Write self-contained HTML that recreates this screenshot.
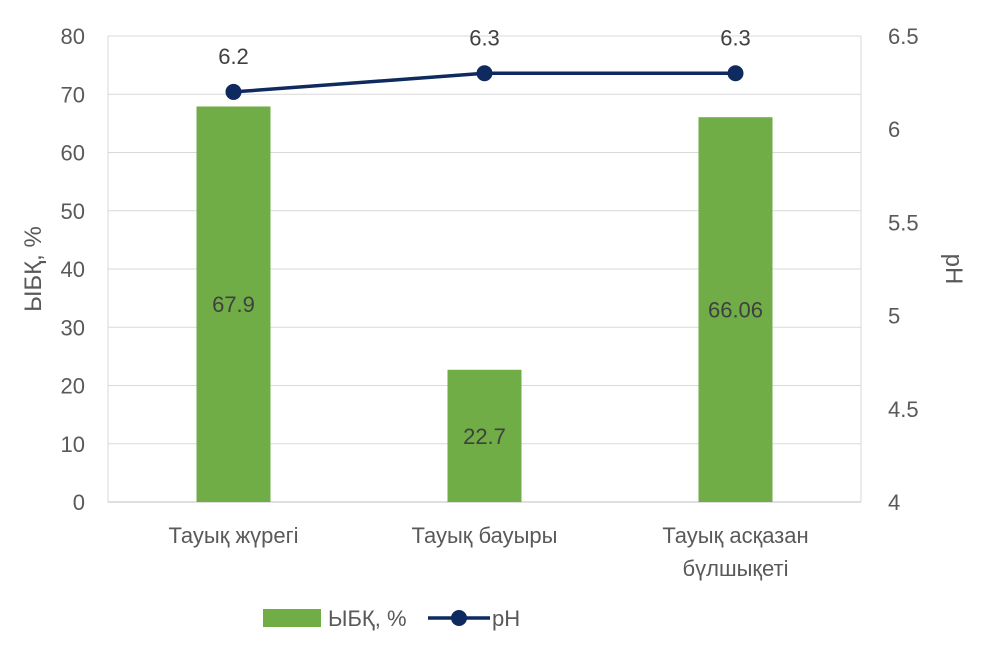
<!DOCTYPE html>
<html><head><meta charset="utf-8"><style>
body{margin:0;background:#fff;}
svg text{font-family:"Liberation Sans","DejaVu Sans",sans-serif;}
</style></head><body>
<svg id="chart" width="982" height="643" xmlns="http://www.w3.org/2000/svg"></svg>
<script>
const categories=[["Тауық жүрегі"],["Тауық бауыры"],["Тауық асқазан","бүлшықеті"]];
const ybkValues=[67.9,22.7,66.06];
const ybkLabels=["67.9","22.7","66.06"];
const phValues=[6.2,6.3,6.3];
const phLabels=["6.2","6.3","6.3"];
const leftTicks=[0,10,20,30,40,50,60,70,80];
const rightTicks=["4","4.5","5","5.5","6","6.5"];
const rightTickVals=[4,4.5,5,5.5,6,6.5];

const svg=document.getElementById('chart');
const NS="http://www.w3.org/2000/svg";
const L=108,R=861,T=36,B=502;
const FS=22;
const yL=v=>B-(v/80)*(B-T);
const yR=v=>B-((v-4)/2.5)*(B-T);
const xC=i=>L+(R-L)*(i+0.5)/categories.length;
function el(tag,attrs,txt){const e=document.createElementNS(NS,tag);for(const k in attrs)e.setAttribute(k,attrs[k]);if(txt!==undefined)e.textContent=txt;svg.appendChild(e);return e;}

leftTicks.forEach(v=>{
 const g=el('line',{x1:L,x2:R,y1:yL(v),y2:yL(v),stroke:v===0?'#bfbfbf':'#d9d9d9','stroke-width':1});
 
 
 const t=el('text',{x:85,y:yL(v)+8,'text-anchor':'end','font-size':FS,fill:'#595959'},String(v));
 
 
});
rightTickVals.forEach((v,i)=>{
 const t=el('text',{x:888,y:yR(v)+8,'font-size':FS,fill:'#595959'},rightTicks[i]);
 
 
});
const la=el('line',{x1:L,x2:L,y1:T,y2:B,stroke:'#d9d9d9'});


const ra=el('line',{x1:R,x2:R,y1:T,y2:B,stroke:'#d9d9d9'});



ybkValues.forEach((v,i)=>{
 const r=el('rect',{x:xC(i)-37,y:yL(v),width:74,height:B-yL(v),fill:'#70ad47'});
 
 
 const t=el('text',{x:xC(i),y:(yL(v)+B)/2+8,'text-anchor':'middle','font-size':FS,fill:'#404040'},ybkLabels[i]);
 
 
 categories[i].forEach((ln,j)=>{
  const c=el('text',{x:xC(i),y:543+j*33,'text-anchor':'middle','font-size':FS,fill:'#595959'},ln);
  
  
 });
});
const pts=phValues.map((v,i)=>xC(i)+','+yR(v)).join(' ');
const pl=el('polyline',{points:pts,fill:'none',stroke:'#0e2a5e','stroke-width':3.5});


phValues.forEach((v,i)=>{
 const c=el('circle',{cx:xC(i),cy:yR(v),r:8,fill:'#0e2a5e'});
 
 
 const t=el('text',{x:xC(i),y:yR(v)-28,'text-anchor':'middle','font-size':FS,fill:'#404040'},phLabels[i]);
 
 
});
const yt=el('text',{x:0,y:0,'font-size':24,fill:'#595959','text-anchor':'middle',transform:'translate(41,269) rotate(-90)'},'ЫБҚ, %');


const rt=el('text',{x:0,y:0,'font-size':24,fill:'#595959','text-anchor':'middle',transform:'translate(946,269) rotate(90)'},'pH');


const lb=el('rect',{x:263,y:609,width:58,height:18,fill:'#70ad47'});


const lt1=el('text',{x:328,y:626,'font-size':FS,fill:'#595959'},'ЫБҚ, %');


const ll=el('line',{x1:428,x2:490,y1:618,y2:618,stroke:'#0e2a5e','stroke-width':3.5});


const lc=el('circle',{cx:459,cy:618,r:8,fill:'#0e2a5e'});


const lt2=el('text',{x:492,y:626,'font-size':FS,fill:'#595959'},'pH');


</script>
</body></html>
